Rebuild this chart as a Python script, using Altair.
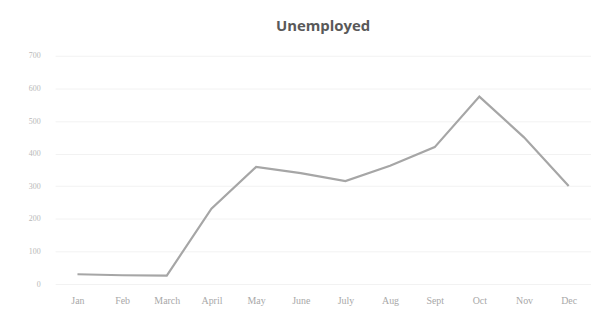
import altair as alt
import pandas as pd

months = ["Jan", "Feb", "March", "April", "May", "June", "July", "Aug", "Sept", "Oct", "Nov", "Dec"]
unemployed = [30, 27, 26, 231, 359, 340, 316, 363, 420, 575, 450, 301]

df = pd.DataFrame({"month": months, "value": unemployed})

chart = alt.Chart(df).mark_line(color="#a6a6a6", strokeWidth=2.2).encode(
    x=alt.X("month:N", sort=months, title=None,
            scale=alt.Scale(type="point", padding=0.5),
            axis=alt.Axis(labelAngle=0, domain=False, ticks=False, grid=False,
                          labelColor="#a8a8a8", labelFontSize=10, labelPadding=12,
                          labelFont="Liberation Serif")),
    y=alt.Y("value:Q", title=None,
            scale=alt.Scale(domain=[0, 700]),
            axis=alt.Axis(values=[0, 100, 200, 300, 400, 500, 600, 700], domain=False, ticks=False,
                          gridColor="#f2f2f2", labelColor="#b8b8b8", labelFontSize=8,
                          labelPadding=15, labelFont="Liberation Serif")),
).properties(
    width=540, height=230,
    title=alt.TitleParams("Unemployed", fontSize=15, fontWeight="bold", color="#595959",
                          font="Open Sans", anchor="middle", offset=18),
    autosize=alt.AutoSizeParams(type="none"),
    padding={"left": 47.5, "top": 47, "right": 0, "bottom": 30},
).configure_view(stroke=None)

chart.save("out.html", embed_options={"renderer": "svg", "actions": False})
